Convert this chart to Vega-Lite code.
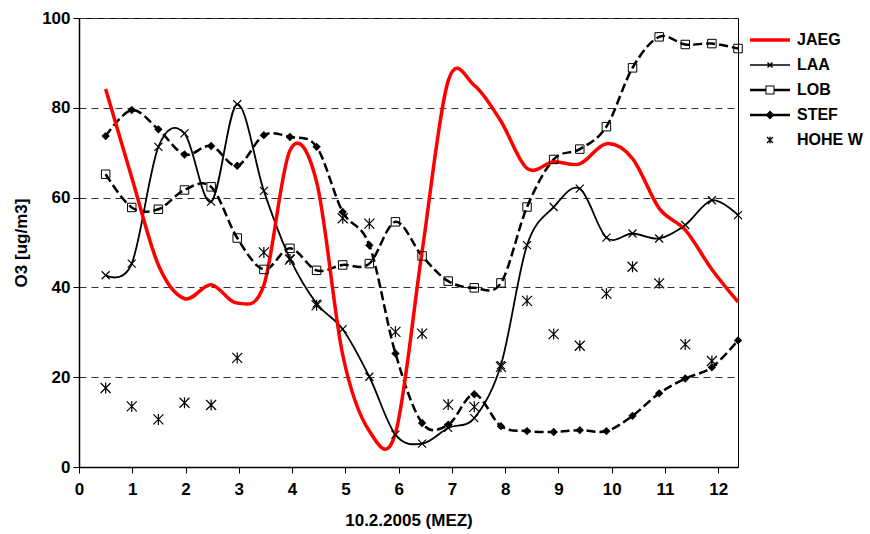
{
  "$schema": "https://vega.github.io/schema/vega-lite/v6.json",
  "autosize": "none",
  "width": 659,
  "height": 449,
  "padding": {"left": 79, "top": 18, "right": 132, "bottom": 67},
  "background": "white",
  "config": {
    "view": {"stroke": "black", "strokeWidth": 1},
    "font": "Liberation Sans",
    "axis": {
      "labelFont": "Liberation Sans", "labelFontSize": 17, "labelFontWeight": "bold", "labelColor": "black",
      "titleFont": "Liberation Sans", "titleFontSize": 17, "titleFontWeight": "bold", "titleColor": "black",
      "domainColor": "black", "domainWidth": 1.5, "tickColor": "black", "tickSize": 6, "tickWidth": 1,
      "labelOverlap": false
    }
  },
  "datasets": {
    "o3": [
      {"t": 0.50, "series": "JAEG", "v": 84.2}, {"t": 0.99, "series": "JAEG", "v": 64.5}, {"t": 1.49, "series": "JAEG", "v": 45.0},
      {"t": 1.98, "series": "JAEG", "v": 37.5}, {"t": 2.48, "series": "JAEG", "v": 40.6}, {"t": 2.97, "series": "JAEG", "v": 36.5},
      {"t": 3.47, "series": "JAEG", "v": 40.5}, {"t": 3.96, "series": "JAEG", "v": 70.5}, {"t": 4.46, "series": "JAEG", "v": 63.5},
      {"t": 4.95, "series": "JAEG", "v": 25.0}, {"t": 5.45, "series": "JAEG", "v": 8.0}, {"t": 5.94, "series": "JAEG", "v": 7.5},
      {"t": 6.44, "series": "JAEG", "v": 48.0}, {"t": 6.93, "series": "JAEG", "v": 86.0}, {"t": 7.42, "series": "JAEG", "v": 85.0},
      {"t": 7.92, "series": "JAEG", "v": 77.0}, {"t": 8.41, "series": "JAEG", "v": 66.5}, {"t": 8.91, "series": "JAEG", "v": 68.0},
      {"t": 9.40, "series": "JAEG", "v": 67.5}, {"t": 9.90, "series": "JAEG", "v": 72.0}, {"t": 10.39, "series": "JAEG", "v": 68.7},
      {"t": 10.89, "series": "JAEG", "v": 57.6}, {"t": 11.38, "series": "JAEG", "v": 52.8}, {"t": 11.88, "series": "JAEG", "v": 44.0},
      {"t": 12.37, "series": "JAEG", "v": 36.8},

      {"t": 0.50, "series": "LAA", "v": 42.7}, {"t": 0.99, "series": "LAA", "v": 45.3}, {"t": 1.49, "series": "LAA", "v": 71.3},
      {"t": 1.98, "series": "LAA", "v": 74.3}, {"t": 2.48, "series": "LAA", "v": 59.1}, {"t": 2.97, "series": "LAA", "v": 80.8},
      {"t": 3.47, "series": "LAA", "v": 61.5}, {"t": 3.96, "series": "LAA", "v": 46.4}, {"t": 4.46, "series": "LAA", "v": 36.4},
      {"t": 4.95, "series": "LAA", "v": 30.7}, {"t": 5.45, "series": "LAA", "v": 20.1}, {"t": 5.94, "series": "LAA", "v": 7.2},
      {"t": 6.44, "series": "LAA", "v": 5.2}, {"t": 6.93, "series": "LAA", "v": 8.7}, {"t": 7.42, "series": "LAA", "v": 10.9},
      {"t": 7.92, "series": "LAA", "v": 22.7}, {"t": 8.41, "series": "LAA", "v": 49.4}, {"t": 8.91, "series": "LAA", "v": 57.9},
      {"t": 9.40, "series": "LAA", "v": 62.0}, {"t": 9.90, "series": "LAA", "v": 51.1}, {"t": 10.39, "series": "LAA", "v": 52.0},
      {"t": 10.89, "series": "LAA", "v": 50.9}, {"t": 11.38, "series": "LAA", "v": 53.9}, {"t": 11.88, "series": "LAA", "v": 59.4},
      {"t": 12.37, "series": "LAA", "v": 56.1},

      {"t": 0.50, "series": "LOB", "v": 65.2}, {"t": 0.99, "series": "LOB", "v": 57.8}, {"t": 1.49, "series": "LOB", "v": 57.4},
      {"t": 1.98, "series": "LOB", "v": 61.7}, {"t": 2.48, "series": "LOB", "v": 62.4}, {"t": 2.97, "series": "LOB", "v": 51.0},
      {"t": 3.47, "series": "LOB", "v": 44.0}, {"t": 3.96, "series": "LOB", "v": 48.7}, {"t": 4.46, "series": "LOB", "v": 43.8},
      {"t": 4.95, "series": "LOB", "v": 45.0}, {"t": 5.45, "series": "LOB", "v": 45.3}, {"t": 5.94, "series": "LOB", "v": 54.6},
      {"t": 6.44, "series": "LOB", "v": 47.0}, {"t": 6.93, "series": "LOB", "v": 41.4}, {"t": 7.42, "series": "LOB", "v": 39.9},
      {"t": 7.92, "series": "LOB", "v": 41.0}, {"t": 8.41, "series": "LOB", "v": 57.9}, {"t": 8.91, "series": "LOB", "v": 68.5},
      {"t": 9.40, "series": "LOB", "v": 70.8}, {"t": 9.90, "series": "LOB", "v": 75.8}, {"t": 10.39, "series": "LOB", "v": 88.9},
      {"t": 10.89, "series": "LOB", "v": 95.8}, {"t": 11.38, "series": "LOB", "v": 94.1}, {"t": 11.88, "series": "LOB", "v": 94.3},
      {"t": 12.37, "series": "LOB", "v": 93.2},

      {"t": 0.50, "series": "STEF", "v": 73.7}, {"t": 0.99, "series": "STEF", "v": 79.5}, {"t": 1.49, "series": "STEF", "v": 75.2},
      {"t": 1.98, "series": "STEF", "v": 69.6}, {"t": 2.48, "series": "STEF", "v": 71.5}, {"t": 2.97, "series": "STEF", "v": 67.1},
      {"t": 3.47, "series": "STEF", "v": 73.9}, {"t": 3.96, "series": "STEF", "v": 73.5}, {"t": 4.46, "series": "STEF", "v": 71.3},
      {"t": 4.95, "series": "STEF", "v": 56.8}, {"t": 5.45, "series": "STEF", "v": 49.4}, {"t": 5.94, "series": "STEF", "v": 25.3},
      {"t": 6.44, "series": "STEF", "v": 9.8}, {"t": 6.93, "series": "STEF", "v": 9.4}, {"t": 7.42, "series": "STEF", "v": 16.2},
      {"t": 7.92, "series": "STEF", "v": 9.1}, {"t": 8.41, "series": "STEF", "v": 8.0}, {"t": 8.91, "series": "STEF", "v": 7.8},
      {"t": 9.40, "series": "STEF", "v": 8.2}, {"t": 9.90, "series": "STEF", "v": 8.0}, {"t": 10.39, "series": "STEF", "v": 11.4},
      {"t": 10.89, "series": "STEF", "v": 16.4}, {"t": 11.38, "series": "STEF", "v": 19.7}, {"t": 11.88, "series": "STEF", "v": 22.2},
      {"t": 12.37, "series": "STEF", "v": 28.2},

      {"t": 0.50, "series": "HOHE W", "v": 17.6}, {"t": 0.99, "series": "HOHE W", "v": 13.5}, {"t": 1.49, "series": "HOHE W", "v": 10.6},
      {"t": 1.98, "series": "HOHE W", "v": 14.3}, {"t": 2.48, "series": "HOHE W", "v": 13.8}, {"t": 2.97, "series": "HOHE W", "v": 24.3},
      {"t": 3.47, "series": "HOHE W", "v": 47.8}, {"t": 3.96, "series": "HOHE W", "v": 46.2}, {"t": 4.46, "series": "HOHE W", "v": 36.0},
      {"t": 4.95, "series": "HOHE W", "v": 55.4}, {"t": 5.45, "series": "HOHE W", "v": 54.2}, {"t": 5.94, "series": "HOHE W", "v": 30.1},
      {"t": 6.44, "series": "HOHE W", "v": 29.7}, {"t": 6.93, "series": "HOHE W", "v": 13.9}, {"t": 7.42, "series": "HOHE W", "v": 13.4},
      {"t": 7.92, "series": "HOHE W", "v": 22.3}, {"t": 8.41, "series": "HOHE W", "v": 37.0}, {"t": 8.91, "series": "HOHE W", "v": 29.6},
      {"t": 9.40, "series": "HOHE W", "v": 27.0}, {"t": 9.90, "series": "HOHE W", "v": 38.6}, {"t": 10.39, "series": "HOHE W", "v": 44.6},
      {"t": 10.89, "series": "HOHE W", "v": 40.9}, {"t": 11.38, "series": "HOHE W", "v": 27.3}, {"t": 11.88, "series": "HOHE W", "v": 23.6}
    ]
  },
  "data": {"name": "o3"},
  "encoding": {
    "x": {
      "field": "t", "type": "quantitative",
      "scale": {"domain": [0, 12.37], "nice": false, "zero": false},
      "axis": {"values": [0,1,2,3,4,5,6,7,8,9,10,11,12], "grid": false, "title": "10.2.2005 (MEZ)", "labelPadding": 8, "titlePadding": 15, "format": "d", "labelFlush": false}
    },
    "y": {
      "field": "v", "type": "quantitative",
      "scale": {"domain": [0, 100], "nice": false},
      "axis": {"values": [0,20,40,60,80,100], "grid": true, "gridDash": [7,5], "gridColor": "#333333", "gridWidth": 1, "title": "O3 [ug/m3]", "labelPadding": 3, "titlePadding": 11}
    },
    "color": {
      "field": "series", "type": "nominal",
      "scale": {"domain": ["JAEG","LAA","LOB","STEF","HOHE W"], "range": ["#ff0000","#000000","#000000","#000000","#000000"]},
      "legend": {
        "orient": "none", "legendX": 683, "legendY": 14, "title": null, "padding": 0,
        "symbolSize": 400, "symbolType": "circle",
        "labelFont": "Liberation Sans", "labelFontSize": 16, "labelFontWeight": "bold", "labelColor": "black",
        "labelOffset": 19, "rowPadding": 9, "labelLimit": 300,
        "encode": {
          "symbols": {
            "update": {
              "shape": {"signal": "datum.value === 'JAEG' ? 'M-2,0H2' : datum.value === 'LAA' ? 'M-2,0H2M-0.25,-0.25L0.25,0.25M-0.25,0.25L0.25,-0.25' : datum.value === 'LOB' ? 'M-2,-0.13H-0.45V0.13H-2ZM0.45,-0.13H2V0.13H0.45ZM-0.45,-0.45H0.45V0.45H-0.45ZM-0.35,-0.35V0.35H0.35V-0.35Z' : datum.value === 'STEF' ? 'M-2,-0.13H2V0.13H-2ZM0,-0.45L0.45,0L0,0.45L-0.45,0Z' : 'M-0.3,-0.3L0.3,0.3M-0.3,0.3L0.3,-0.3M0,-0.35V0.35'"},
              "fill": {"signal": "(datum.value === 'LOB' || datum.value === 'STEF') ? '#000000' : 'transparent'"},
              "stroke": {"signal": "datum.value === 'JAEG' ? '#ff0000' : (datum.value === 'LOB' || datum.value === 'STEF') ? 'transparent' : '#000000'"},
              "strokeWidth": {"signal": "datum.value === 'JAEG' ? 3.5 : datum.value === 'LAA' ? 1.5 : datum.value === 'HOHE W' ? 1.2 : 0"},
              "opacity": {"value": 1}
            }
          }
        }
      }
    }
  },
  "layer": [
    {
      "transform": [{"filter": "datum.series === 'LOB'"}],
      "mark": {"type": "line", "interpolate": "cardinal", "strokeWidth": 2.5, "strokeDash": [9, 4]}
    },
    {
      "transform": [{"filter": "datum.series === 'STEF'"}],
      "mark": {"type": "line", "interpolate": "cardinal", "strokeWidth": 2.5, "strokeDash": [9, 4]}
    },
    {
      "transform": [{"filter": "datum.series === 'LAA'"}],
      "mark": {"type": "line", "interpolate": "cardinal", "strokeWidth": 1.8}
    },
    {
      "transform": [{"filter": "datum.series === 'JAEG'"}],
      "mark": {"type": "line", "interpolate": "cardinal", "strokeWidth": 3.5}
    },
    {
      "transform": [{"filter": "datum.series === 'LAA'"}],
      "mark": {"type": "point", "shape": "M-1,-1L1,1M-1,1L1,-1", "size": 64, "filled": false, "strokeWidth": 1.2, "opacity": 1}
    },
    {
      "transform": [{"filter": "datum.series === 'LOB'"}],
      "mark": {"type": "point", "shape": "square", "size": 72, "filled": false, "strokeWidth": 1, "opacity": 1}
    },
    {
      "transform": [{"filter": "datum.series === 'STEF'"}],
      "mark": {"type": "point", "shape": "diamond", "size": 70, "filled": true, "opacity": 1}
    },
    {
      "transform": [{"filter": "datum.series === 'HOHE W'"}],
      "mark": {"type": "point", "shape": "M-1,-1L1,1M-1,1L1,-1M0,-1.1V1.1", "size": 100, "filled": false, "strokeWidth": 1.2, "opacity": 1}
    }
  ]
}
